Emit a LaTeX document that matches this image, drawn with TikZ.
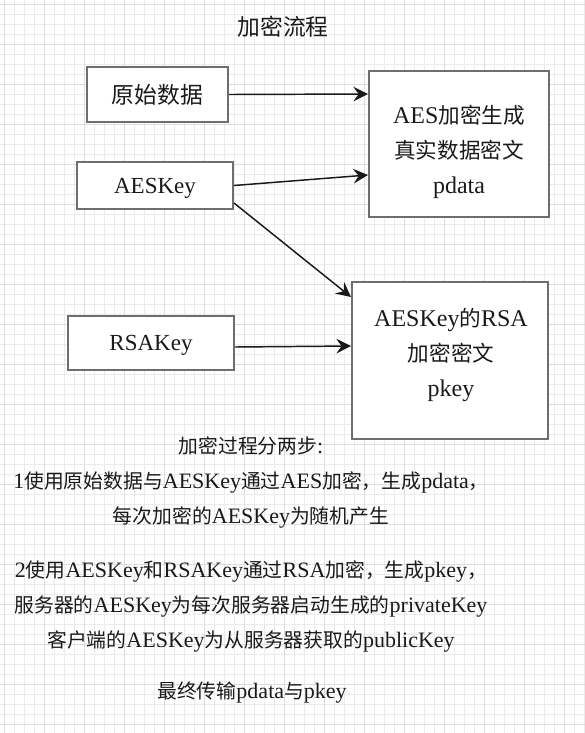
\documentclass[tikz,border=0pt]{standalone}
\usepackage{fontspec}
\setmainfont{Liberation Serif}
\newfontfamily\zhfont{Noto Sans CJK SC}[Scale=0.9]
\newcommand{\zh}[1]{{\zhfont #1}}
\usetikzlibrary{arrows.meta,calc}
\definecolor{boxline}{HTML}{6E6E6E}
\definecolor{txt}{HTML}{1A1A1A}
\definecolor{gminor}{HTML}{EBEBEB}
\definecolor{gmajor}{HTML}{DDDDDD}
\tikzset{
  box/.style={draw=boxline, line width=1.5pt, fill=white, inner sep=0pt},
  boxtxt/.style={text=txt, align=center, font=\fontsize{18}{26.25}\selectfont},
  smalltxt/.style={text=txt, font=\fontsize{17.25}{20}\selectfont, text depth=0pt},
  bigtxt/.style={text=txt, font=\fontsize{19}{22}\selectfont},
  bodytxt/.style={text=txt, align=center, font=\fontsize{16.5}{26.25}\selectfont},
  arr/.style={draw=black!90, line width=1.1pt, -{Stealth[length=11pt,width=11pt,inset=4pt]}},
}
\begin{document}
\begin{tikzpicture}[x=0.75pt,y=-0.75pt]
\useasboundingbox (0,0) rectangle (585,733);
\fill[white] (0,0) rectangle (585,733);
% grid
\foreach \i in {4,14,...,584} \draw[gminor, line width=0.7pt] (\i,0) -- (\i,733);
\foreach \j in {4,14,...,733} \draw[gminor, line width=0.7pt] (0,\j) -- (585,\j);
\foreach \i in {4,44,...,584} \draw[gmajor, line width=0.7pt] (\i,0) -- (\i,733);
\foreach \j in {4,44,...,733} \draw[gmajor, line width=0.7pt] (0,\j) -- (585,\j);

% title
\node[bigtxt] (title) at (283,27) {\zh{加密流程}};

% boxes
\node[box, minimum width=141*0.75pt, minimum height=55*0.75pt, bigtxt] (orig) at (157.5,94.5) {\zh{原始数据}};
\node[box, minimum width=156*0.75pt, minimum height=47*0.75pt, smalltxt] (aeskey) at (155,185.5) {AESKey};
\node[box, minimum width=166*0.75pt, minimum height=54*0.75pt, smalltxt] (rsakey) at (151,343) {RSAKey};
\node[box, minimum width=180*0.75pt, minimum height=146*0.75pt] (aes) at (459,144) {};
\node[boxtxt] (aestxt) at (459,152) {AES\zh{加密生成}\\\zh{真实数据密文}\\pdata};
\node[box, minimum width=196*0.75pt, minimum height=157*0.75pt] (rsa) at (450,360.5) {};
\node[boxtxt] (rsatxt) at (451,355) {AESKey\zh{的}RSA\\\zh{加密密文}\\pkey};

% connectors
\draw[arr] (orig.east) -- ($(aes.north west)+(0,24)$);
\draw[arr] (aeskey.east) -- ($(aes.north west)+(0,105)$);
\draw[arr] ($(aeskey.south east)+(0,-7)$) -- ($(rsa.north west)+(0,16)$);
\draw[arr] ($(rsakey.east)+(0,4)$) -- ($(rsa.north west)+(0,65)$);

% explanation
\node[bodytxt] (step1) at (251,482) {\zh{加密过程分两步}:\\1\zh{使用原始数据与}AESKey\zh{通过}AES\zh{加密，生成}pdata\zh{，}\\\zh{每次加密的}AESKey\zh{为随机产生}};
\node[bodytxt] (step2) at (251,606) {2\zh{使用}AESKey\zh{和}RSAKey\zh{通过}RSA\zh{加密，生成}pkey\zh{，}\\\zh{服务器的}AESKey\zh{为每次服务器启动生成的}privateKey\\\zh{客户端的}AESKey\zh{为从服务器获取的}publicKey};
\node[bodytxt] (final) at (252,693) {\zh{最终传输}pdata\zh{与}pkey};
\end{tikzpicture}
\end{document}
